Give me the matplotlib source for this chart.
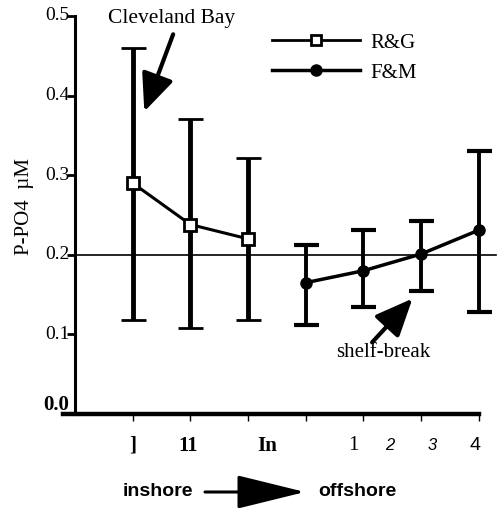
import matplotlib
matplotlib.use('Agg')
import matplotlib.pyplot as plt
from matplotlib.lines import Line2D
from matplotlib.patches import FancyArrowPatch

# station positions along the transect
rg_x = [1, 2, 3]
rg_mean = [0.290, 0.238, 0.220]
rg_hi = [0.460, 0.370, 0.322]
rg_lo = [0.118, 0.108, 0.118]

fm_x = [4, 5, 6, 7]
fm_mean = [0.165, 0.180, 0.201, 0.231]
fm_hi = [0.212, 0.231, 0.243, 0.331]
fm_lo = [0.112, 0.134, 0.155, 0.128]

# scanned (garbled) tick labels and where they sit
xlabels = [']', '11', 'In', '1', '2', '3', '4']
xlabel_pos = [1.0, 1.96, 3.33, 4.83, 5.46, 6.2, 6.93]
xlabel_style = ['bold', 'bold', 'bold', 'serif', 'italic', 'italic', 'sans']

yticks = [0.0, 0.1, 0.2, 0.3, 0.4, 0.5]
ref_level = 0.2

SERIF = 'Liberation Serif'
SANS = 'Liberation Sans'

fig = plt.figure(figsize=(4.99, 5.08), dpi=100)
ax = fig.add_axes([63 / 499, 94 / 508, 436 / 499, 398 / 508])
ax.set_xlim(-0.21, 7.35)
ax.set_ylim(0, 0.5)

for s in ['top', 'right']:
    ax.spines[s].set_visible(False)
ax.spines['left'].set_position(('data', 0))
ax.spines['left'].set_linewidth(2.2)
ax.spines['bottom'].set_linewidth(3.2)
ax.spines['bottom'].set_bounds(-0.21, 7.0)

# reference level
ax.plot([0, 7.3], [ref_level, ref_level], color='black', lw=1.2, clip_on=False)

# R&G
rg_err = [[m - l for m, l in zip(rg_mean, rg_lo)], [h - m for m, h in zip(rg_mean, rg_hi)]]
ax.errorbar(rg_x, rg_mean, yerr=rg_err, color='black', lw=2.2, elinewidth=3.5,
            capsize=9, capthick=2.5, marker='s', ms=8, mfc='white', mec='black',
            mew=2, clip_on=False, zorder=3)

# F&M
fm_err = [[m - l for m, l in zip(fm_mean, fm_lo)], [h - m for m, h in zip(fm_mean, fm_hi)]]
ax.errorbar(fm_x, fm_mean, yerr=fm_err, color='black', lw=2.5, elinewidth=2.8,
            capsize=9, capthick=3, marker='o', ms=8, mfc='black', mec='black',
            clip_on=False, zorder=3)

# ticks
ax.set_xticks(range(1, 8))
ax.set_xticklabels([])
ax.tick_params(axis='x', length=5, width=1, direction='out')
ax.set_yticks(yticks)
ax.set_yticklabels([])
ax.tick_params(axis='y', length=6, width=2, direction='out')

for v in yticks:
    if v == 0:
        ax.text(-0.1, 0.011, f'{v:.1f}', ha='right', va='center', fontsize=15,
                family=SERIF, fontweight='bold')
    else:
        ax.text(-0.1, v, f'{v:.1f}', ha='right', va='center', fontsize=14, family=SERIF)

for lab, pos, sty in zip(xlabels, xlabel_pos, xlabel_style):
    if sty == 'bold':
        kw = dict(family=SERIF, fontweight='bold', fontsize=15)
    elif sty == 'serif':
        kw = dict(family=SERIF, fontsize=15)
    elif sty == 'italic':
        kw = dict(family=SANS, style='italic', fontsize=12)
    else:
        kw = dict(family=SANS, fontsize=14)
    ax.text(pos, -0.04, lab, ha='center', va='center', clip_on=False, **kw)

fig.text(25 / 499, 1 - 207 / 508, 'P-PO4  µM', rotation=90, ha='center', va='center',
         fontsize=15, family=SERIF)

# annotations
arrow_kw = dict(arrowstyle='-|>,head_length=1.15,head_width=0.5', color='black',
                lw=3, mutation_scale=20, shrinkA=0, shrinkB=0)
ax.text(1.68, 0.497, 'Cleveland Bay', ha='center', va='center', fontsize=15.5, family=SERIF)
ax.annotate('', xy=(1.2, 0.38), xytext=(1.7, 0.477), arrowprops=arrow_kw,
            annotation_clip=False)

ax.text(5.34, 0.077, 'shelf-break', ha='center', va='center', fontsize=15, family=SERIF)
ax.annotate('', xy=(5.85, 0.145), xytext=(5.15, 0.09), arrowprops=arrow_kw)

# legend
handles = [Line2D([], [], color='black', lw=2, marker='s', ms=7, mfc='white', mew=2),
           Line2D([], [], color='black', lw=2.5, marker='o', ms=8, mfc='black')]
ax.legend(handles, ['R&G', 'F&M'], loc='upper left',
          bbox_to_anchor=(272 / 499, 1 - 33 / 508), bbox_transform=fig.transFigure,
          frameon=False, handlelength=4.2, prop={'family': SERIF, 'size': 15},
          labelspacing=0.5, borderaxespad=0, borderpad=0, handletextpad=0.5)

# inshore -> offshore
fig.text(158 / 499, 1 - 492 / 508, 'inshore', ha='center', va='center', fontsize=14,
         family=SANS, fontweight='bold')
fig.text(357 / 499, 1 - 492 / 508, 'offshore', ha='center', va='center', fontsize=14,
         family=SANS, fontweight='bold')
fig.add_artist(FancyArrowPatch(
    (205 / 499, 1 - 492 / 508), (305 / 499, 1 - 492 / 508), transform=fig.transFigure,
    arrowstyle='-|>,head_length=1.95,head_width=0.48', mutation_scale=22,
    color='black', lw=2.2, shrinkA=0, shrinkB=0))

fig.savefig('out.png', dpi=100)
